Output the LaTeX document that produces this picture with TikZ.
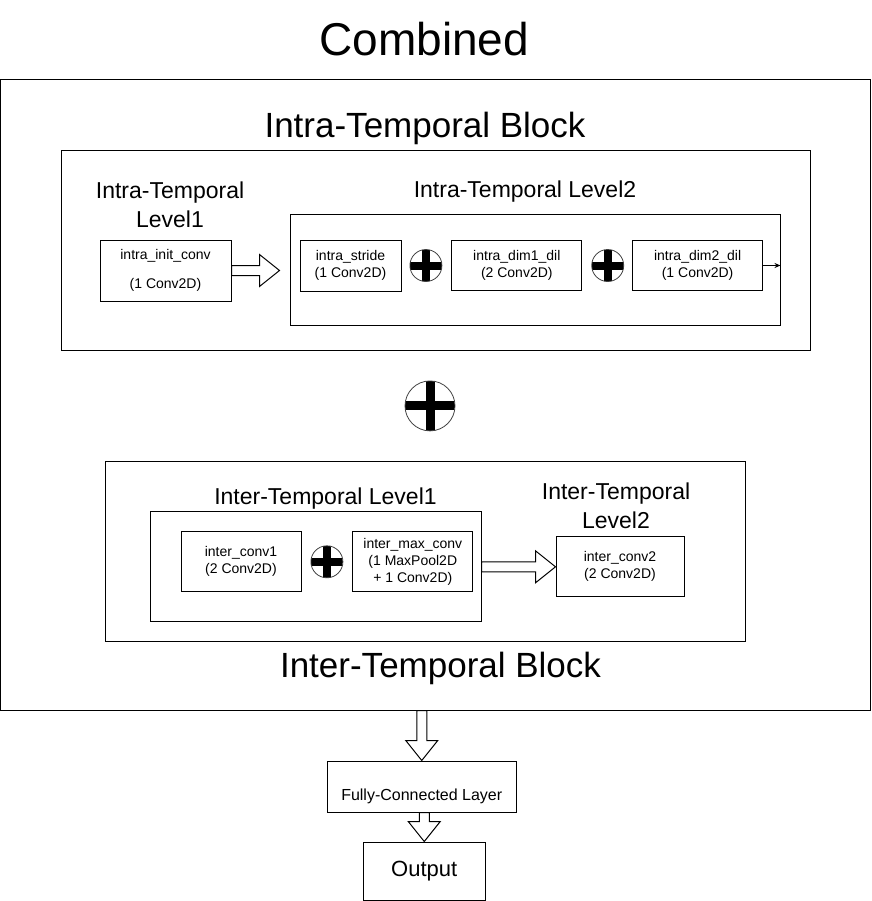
\documentclass[tikz,border=0pt]{standalone}
\usepackage{fontspec}
\setmainfont{Liberation Sans}
\usetikzlibrary{arrows.meta, positioning, calc}
\newcommand{\crossbars}[1]{\draw[black, line width=#1] (path picture bounding box.north) -- (path picture bounding box.south) (path picture bounding box.west) -- (path picture bounding box.east);}
% hollow block arrows, drawn between two named nodes
\newcommand{\fatright}[3][0pt]{\draw[fatarrow] let \p1=(#2.east), \p2=(#3.west) in (\x1,{\y1+5pt}) -- ({\x2-#1-20pt},{\y1+5pt}) -- ({\x2-#1-20pt},{\y1+16pt}) -- ({\x2-#1},\y1) -- ({\x2-#1-20pt},{\y1-16pt}) -- ({\x2-#1-20pt},{\y1-5pt}) -- (\x1,{\y1-5pt}) -- cycle;}
\newcommand{\fatdown}[2]{\draw[fatarrow] let \p1=(#1.south), \p2=(#2.north) in ({\x2-5pt},\y1) -- ({\x2-5pt},{\y2+20pt}) -- ({\x2-16pt},{\y2+20pt}) -- (\x2,\y2) -- ({\x2+16pt},{\y2+20pt}) -- ({\x2+5pt},{\y2+20pt}) -- ({\x2+5pt},\y1) -- cycle;}
\tikzstyle{frame} = [rectangle, draw, line width=1pt, inner sep=0pt]
\tikzstyle{convbox} = [frame, align=center, minimum width=130pt, minimum height=50pt, font=\fontsize{14}{17}\selectfont]
\tikzstyle{heading} = [inner sep=0pt, font=\fontsize{46}{55}\selectfont]
\tikzstyle{blocktitle} = [inner sep=0pt, font=\fontsize{35}{42}\selectfont]
\tikzstyle{leveltitle} = [inner sep=0pt, align=center, font=\fontsize{23}{29}\selectfont]
\tikzstyle{plus} = [circle, draw=black!75, line width=0.8pt, minimum size=32pt, inner sep=0pt, path picture={\crossbars{8pt}}]
\tikzstyle{bigplus} = [circle, draw=black!75, line width=0.8pt, minimum size=50pt, inner sep=0pt, path picture={\crossbars{9pt}}]
\tikzstyle{fatarrow} = [draw, line width=1pt, fill=white, line join=miter]
\tikzstyle{thinarrow} = [line width=1pt, -{Stealth[length=6pt, width=5pt]}]

\begin{document}
\begin{tikzpicture}[x=1pt, y=-1pt]
        \useasboundingbox (0,0) rectangle (871,901);

        % Outer frame and title
        \node (combined) [frame, minimum width=869.5pt, minimum height=630pt] at (435.25,395) {};
        \node (title) [heading, above=23pt of combined, xshift=-11pt] {Combined};

        % Intra-Temporal Block
        \node (intra) [frame, minimum width=749pt, minimum height=199pt] at (435.5,250.5) {};
        \node (intratitle) [blocktitle, above=6pt of intra, xshift=-10.5pt] {Intra-Temporal Block};

        % Level 1
        \node (init) [convbox, minimum width=131pt, minimum height=61pt] at (165.5,270.5) {intra\_init\_conv\\[12pt](1 Conv2D)};
        \node (lvl1title) [leveltitle, above=12pt of init, xshift=4.5pt] {Intra-Temporal\\Level1};

        % Level 2
        \node (intra2) [frame, minimum width=490pt, minimum height=110pt] at (535,270) {};
        \node (lvl2title) [leveltitle, above=12pt of intra2, xshift=-10pt] {Intra-Temporal Level2};
        \node (stride) [convbox, minimum width=101pt, minimum height=51pt, right=10pt of intra2.west, yshift=4.5pt] {intra\_stride\\(1 Conv2D)};
        \node (add1) [plus, right=8pt of stride] {};
        \node (dil1) [convbox, right=9pt of add1] {intra\_dim1\_dil\\(2 Conv2D)};
        \node (add2) [plus, right=9pt of dil1] {};
        \node (dil2) [convbox, right=8pt of add2] {intra\_dim2\_dil\\(1 Conv2D)};

        % Combining the two blocks
        \node (addmid) [bigplus, below=30pt of intra, xshift=-5.5pt] {};

        % Inter-Temporal Block
        \node (inter) [frame, minimum width=640pt, minimum height=180pt, below=30pt of addmid, xshift=-5pt] {};
        \node (intertitle) [blocktitle, below=10pt of inter, xshift=15.5pt] {Inter-Temporal Block};

        % Inter Level 1
        \node (inter1) [frame, minimum width=331pt, minimum height=110pt, right=45pt of inter.west, yshift=-15pt] {};
        \node (inter1title) [leveltitle, above=2pt of inter1, xshift=10pt] {Inter-Temporal Level1};
        \node (conv1) [convbox, minimum width=120pt, minimum height=60pt, right=31pt of inter1.west, yshift=5pt] {inter\_conv1\\(2 Conv2D)};
        \node (add3) [plus, right=9pt of conv1] {};
        \node (maxconv) [convbox, minimum width=120pt, minimum height=60pt, right=9pt of add3] {inter\_max\_conv\\(1 MaxPool2D\\+ 1 Conv2D)};

        % Inter Level 2
        \node (conv2) [convbox, minimum width=128pt, minimum height=60pt, right=74pt of inter1] {inter\_conv2\\(2 Conv2D)};
        \node (inter2title) [leveltitle, above=7pt of conv2, xshift=-4pt] {Inter-Temporal\\Level2};

        % Head
        \node (fc) [frame, minimum width=189pt, minimum height=51pt, align=center, font=\fontsize{16}{19}\selectfont, below=50pt of combined, xshift=-13.5pt] {\mbox{}\\[13pt]Fully-Connected Layer};
        \node (out) [frame, minimum width=122pt, minimum height=58pt, font=\fontsize{22}{26}\selectfont, below=29pt of fc, xshift=2.5pt] {Output};

        % Arrows
        \fatright[10pt]{init}{intra2}
        \draw [thinarrow] (dil2.east) -- (dil2.east -| intra2.east);
        \fatright{inter1}{conv2}
        \fatdown{combined}{fc}
        \fatdown{fc}{out}

\end{tikzpicture}
\end{document}
